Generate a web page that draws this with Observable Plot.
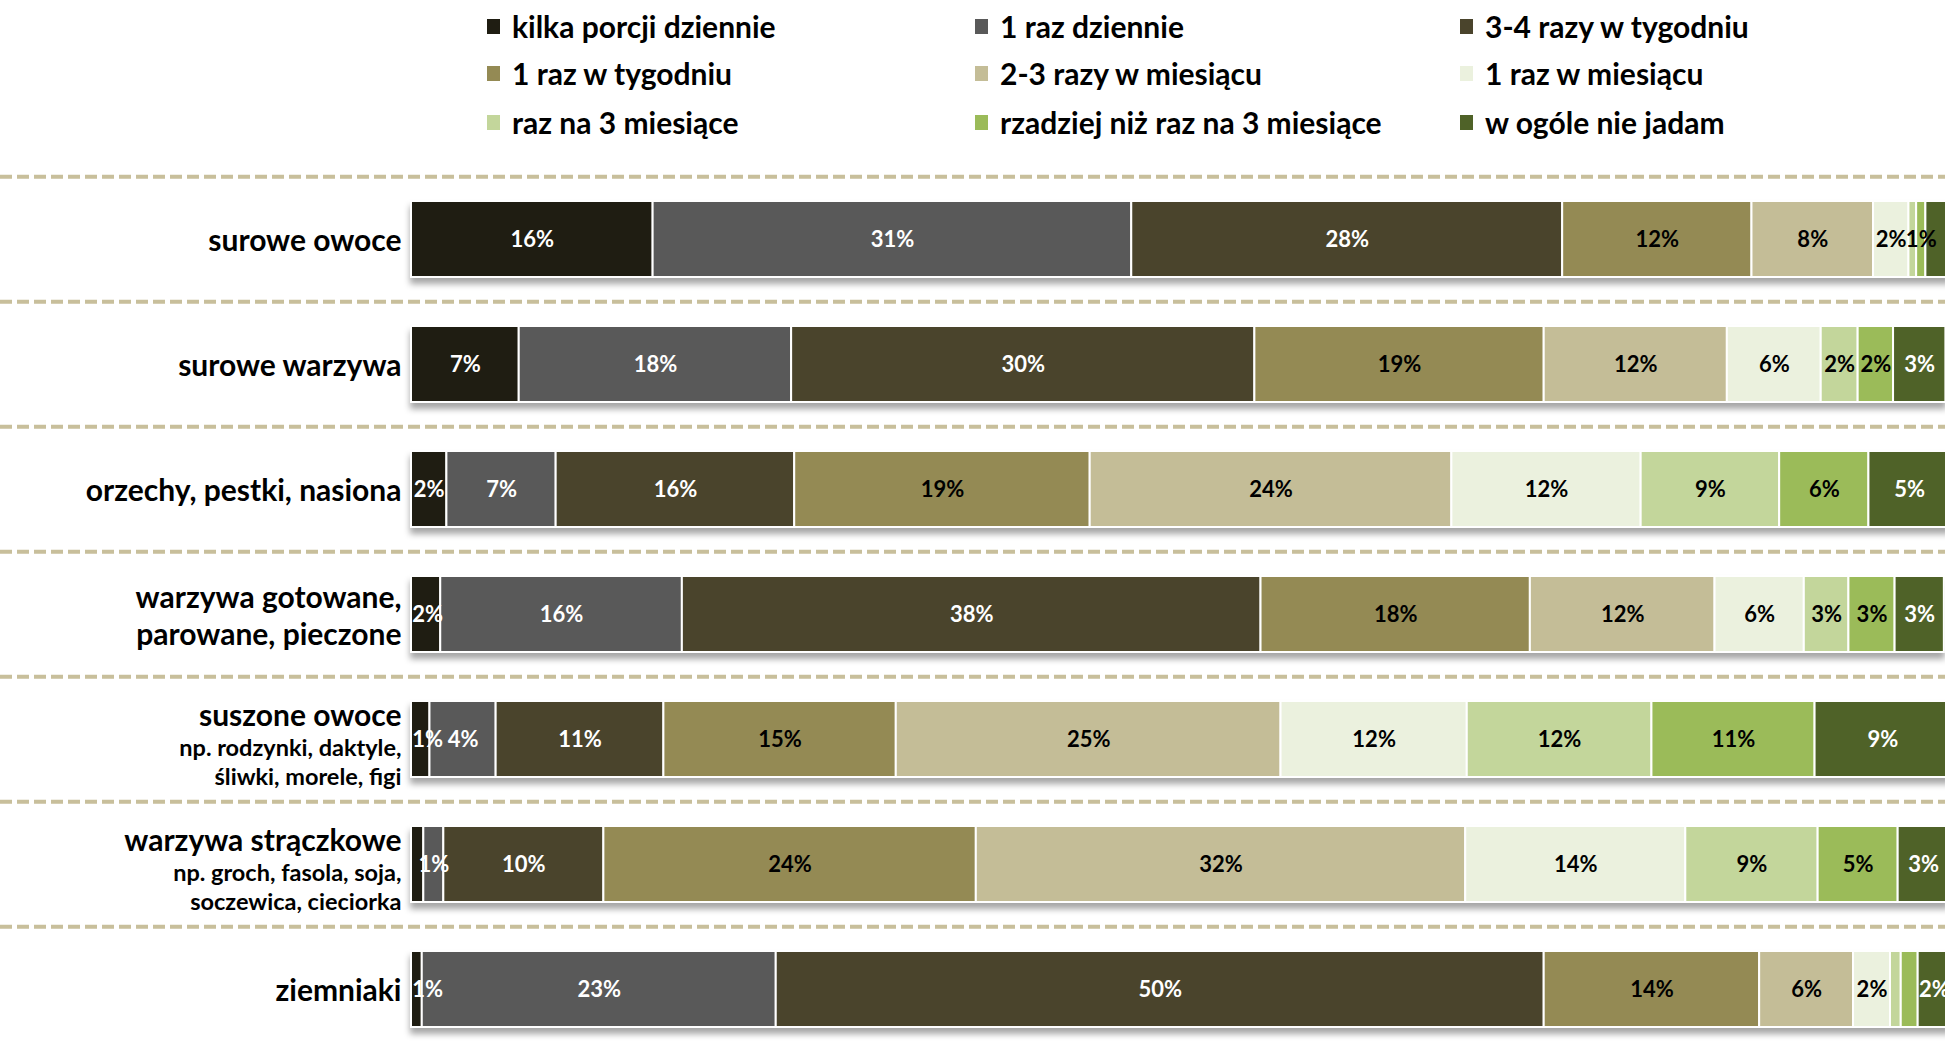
<!DOCTYPE html>
<html><head><meta charset="utf-8">
<script src="https://cdn.jsdelivr.net/npm/d3@7"></script>
<script src="https://cdn.jsdelivr.net/npm/@observablehq/plot@0.6"></script>
<style>
html,body{margin:0;padding:0;background:#fff;overflow:hidden;width:1945px;height:1056px;}
body{font-family:Lato, sans-serif;}
#legend{position:relative;height:170px;width:1945px;}
.item{position:absolute;display:flex;align-items:center;font-weight:700;font-size:30px;color:#000;white-space:nowrap;transform:translateY(-50%);}
.sw{width:13px;height:15px;margin-right:12px;flex:none;}
#chart svg{display:block;overflow:visible;}
</style></head><body>
<div id="legend"></div><div id="chart"></div>
<script>
// ---- data ----
const categories = ["surowe owoce","surowe warzywa","orzechy, pestki, nasiona","warzywa gotowane, parowane, pieczone","suszone owoce","warzywa strączkowe","ziemniaki"];
const titles = ["surowe owoce","surowe warzywa","orzechy, pestki, nasiona","warzywa gotowane,\nparowane, pieczone","suszone owoce","warzywa strączkowe","ziemniaki"];
const notes = ["","","","","np. rodzynki, daktyle,\nśliwki, morele, figi","np. groch, fasola, soja,\nsoczewica, cieciorka",""];
const frequencies = ["kilka porcji dziennie","1 raz dziennie","3-4 razy w tygodniu","1 raz w tygodniu","2-3 razy w miesiącu","1 raz w miesiącu","raz na 3 miesiące","rzadziej niż raz na 3 miesiące","w ogóle nie jadam"];
const colors = ["#1F1D12","#595959","#4A442C","#948A54","#C4BD97","#EBF1DE","#C3D69B","#9BBB59","#4F6228"];
const whiteLabelFreqs = ["kilka porcji dziennie","1 raz dziennie","3-4 razy w tygodniu","w ogóle nie jadam"];

const surowe_owoce    = [15.7,31.1,28.0,12.3, 7.9, 2.3, 0.5, 0.6, 1.6];
const surowe_warzywa  = [ 7.0,17.7,30.1,18.8,11.9, 6.1, 2.4, 2.3, 3.4];
const orzechy         = [ 2.3, 7.1,15.5,19.2,23.5,12.3, 9.0, 5.8, 5.3];
const warzywa_gotow   = [ 1.9,15.7,37.6,17.5,12.0, 5.8, 2.9, 3.0, 3.2];
const suszone_owoce   = [ 1.2, 4.3,10.9,15.1,25.0,12.1,12.0,10.6, 8.8];
const straczkowe      = [ 0.8, 1.3,10.4,24.2,31.8,14.3, 8.6, 5.2, 3.3];
const ziemniaki       = [ 0.7,23.0,49.9,14.0, 6.1, 2.4, 0.7, 1.1, 2.1];
const series = [surowe_owoce, surowe_warzywa, orzechy, warzywa_gotow, suszone_owoce, straczkowe, ziemniaki];

// labels not shown in the original
const hiddenLabels = [
  ["surowe owoce","raz na 3 miesiące"],["surowe owoce","w ogóle nie jadam"],
  ["warzywa strączkowe","kilka porcji dziennie"],
  ["ziemniaki","raz na 3 miesiące"],["ziemniaki","rzadziej niż raz na 3 miesiące"]
];

// ---- legend ----
const legend = document.getElementById("legend");
const colX = [487, 975, 1460], rowY = [26, 73, 122];
frequencies.forEach((f, i) => {
  const d = document.createElement("div");
  d.className = "item";
  d.style.left = colX[i % 3] + "px";
  d.style.top = rowY[Math.floor(i / 3)] + "px";
  const sw = document.createElement("span");
  sw.className = "sw"; sw.style.background = colors[i];
  d.appendChild(sw);
  d.appendChild(document.createTextNode(f));
  legend.appendChild(d);
});

// ---- table ----
const data = [];
categories.forEach((c, i) => {
  let acc = 0;
  frequencies.forEach((f, j) => {
    const v = series[i][j];
    data.push({cat: c, freq: f, value: v, start: acc, end: acc + v,
      hidden: hiddenLabels.some(h => h[0] === c && h[1] === f)});
    acc += v;
  });
});
const labelData = data.filter(d => !d.hidden).map(d => ({...d, lx: Math.max((d.start + d.end) / 2, 1.05)}));
const titleRows = categories.map((c, i) => ({cat: c, title: titles[i], note: notes[i]}));

const W = 1945, H = 883, MT = 6;
const xRange = [411, 1950];
const pxPer = (xRange[1] - xRange[0]) / 100;
const step = (H - MT) / categories.length;

const chart = Plot.plot({
  width: W, height: H, marginTop: MT, marginBottom: 0, marginLeft: 411, marginRight: 0,
  x: {domain: [0, 100], range: xRange, axis: null},
  y: {domain: categories, paddingInner: 0.39, paddingOuter: 0.195, axis: null},
  color: {domain: frequencies, range: colors},
  style: {fontFamily: "Lato, sans-serif", background: "transparent"},
  marks: [
    Plot.ruleY(categories, {y: d => d, dy: -step / 2, x1: -xRange[0] / pxPer, x2: (W - xRange[0]) / pxPer,
      stroke: "#C8BF9B", strokeWidth: 4, strokeDasharray: "12,5"}),
    Plot.barX(data, {x1: "start", x2: "end", y: "cat", fill: "freq", stroke: "white", strokeWidth: 2}),
    Plot.text(labelData, {x: "lx", y: "cat", text: d => Math.round(d.value) + "%",
      fill: d => whiteLabelFreqs.includes(d.freq) ? "#fff" : "#000", fontSize: 22, fontWeight: 700}),
    Plot.text(titleRows.filter(d => !d.note), {x: 0, y: "cat", text: "title", dx: -10, textAnchor: "end",
      fontSize: 30, fontWeight: 700, lineHeight: 1.23, fill: "#000"}),
    Plot.text(titleRows.filter(d => d.note), {x: 0, y: "cat", text: "title", dx: -10, dy: -23, textAnchor: "end",
      fontSize: 30, fontWeight: 700, fill: "#000"}),
    Plot.text(titleRows.filter(d => d.note), {x: 0, y: "cat", text: "note", dx: -10, dy: 22, textAnchor: "end",
      fontSize: 23.5, fontWeight: 700, lineHeight: 1.2, fill: "#000"})
  ]
});
const bars = chart.querySelector('g[aria-label="bar"]');
if (bars) bars.style.filter = "drop-shadow(0px 6px 3px rgba(0,0,0,0.35))";
document.getElementById("chart").appendChild(chart);
</script>
</body></html>
